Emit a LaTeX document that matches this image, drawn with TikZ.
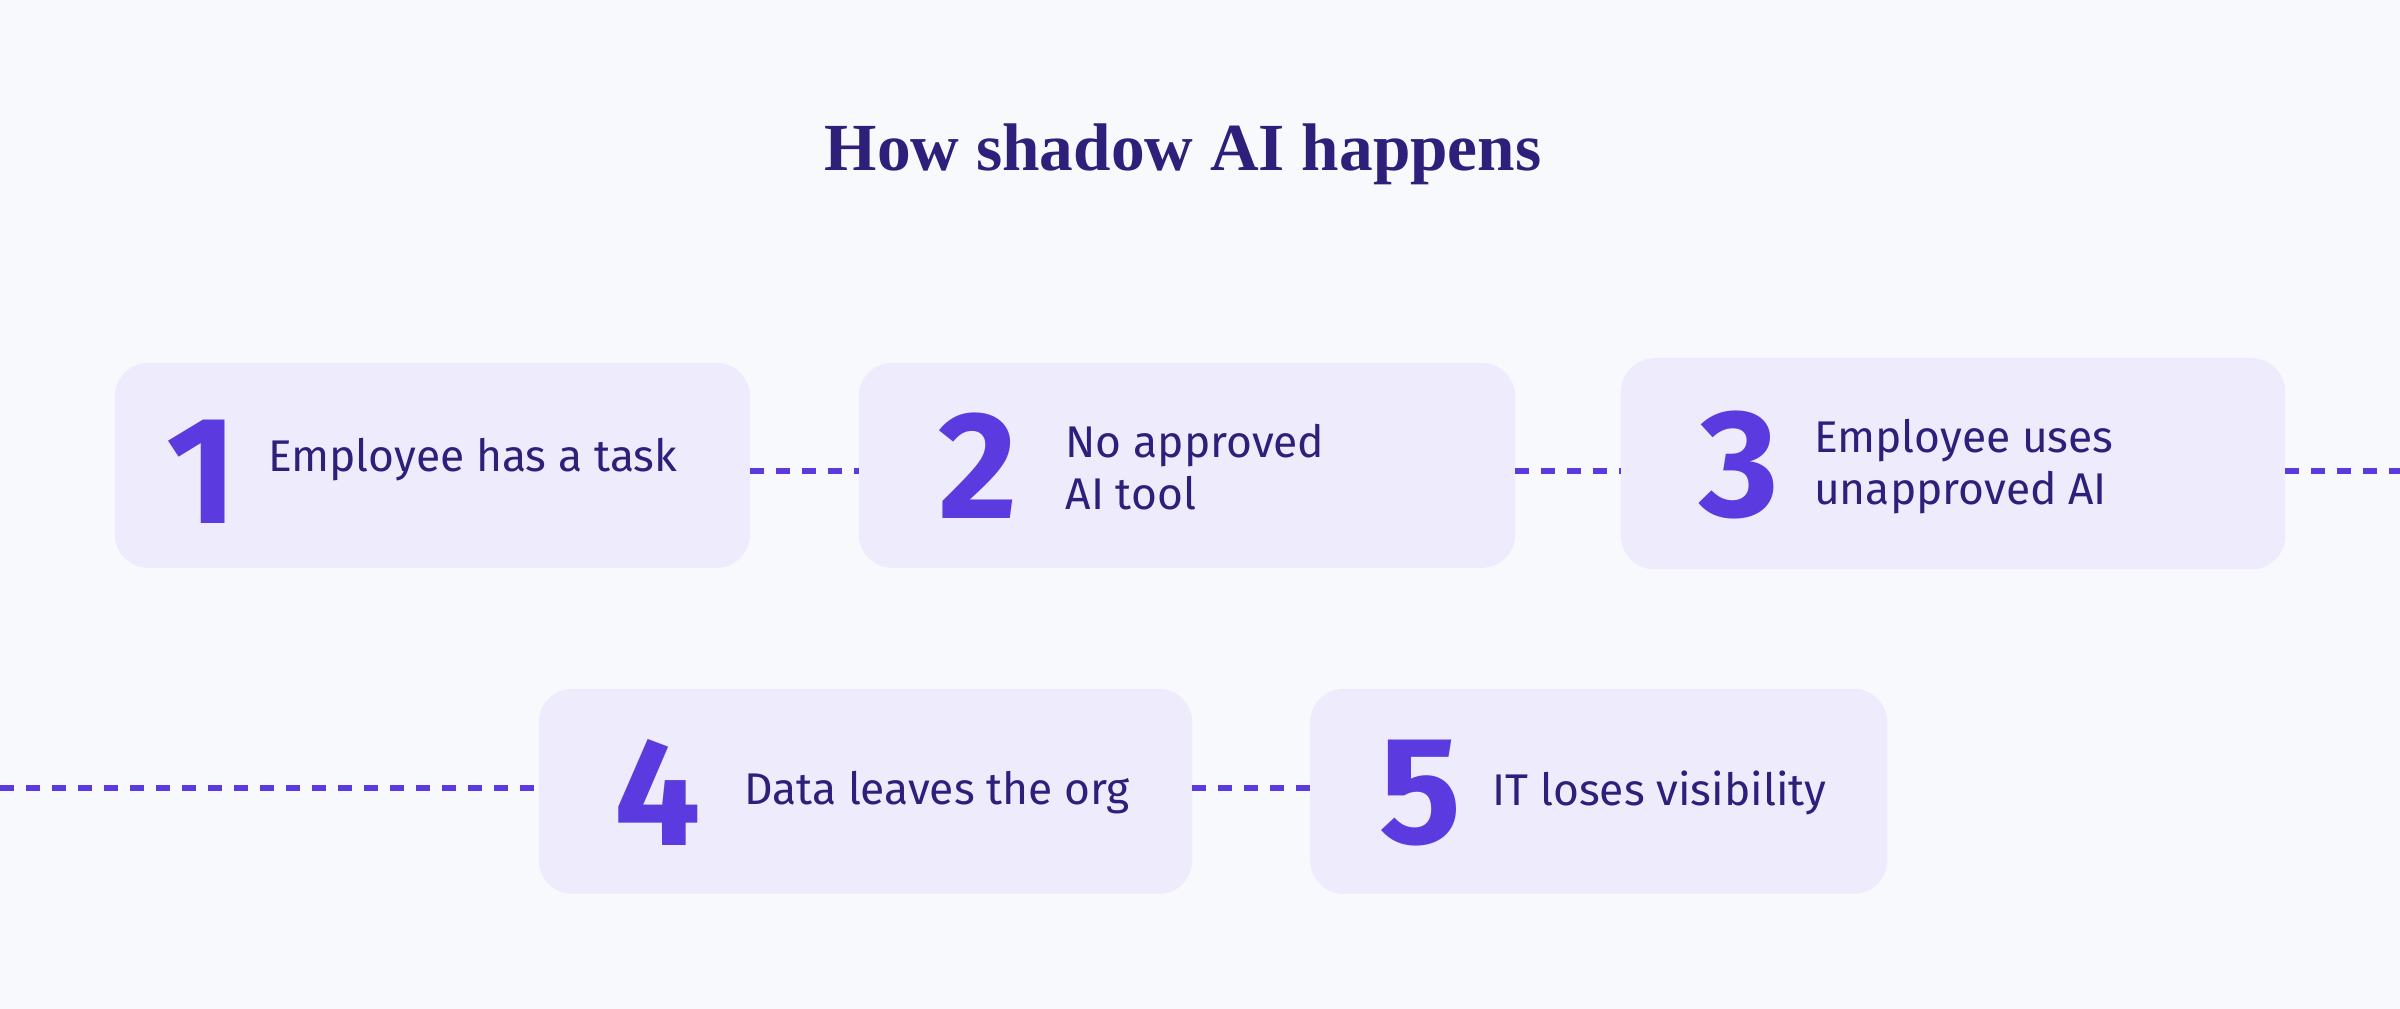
\documentclass[tikz,border=0pt]{standalone}
\usepackage{fontspec}
\setmainfont{Fira Sans}
\newfontfamily\titlefont{Liberation Serif}
\definecolor{bg}{HTML}{F8F9FC}
\definecolor{boxc}{HTML}{EEEBFC}
\definecolor{numc}{HTML}{5B3BE0}
\definecolor{txtc}{HTML}{2E1F7A}
\begin{document}
\begin{tikzpicture}[x=1pt,y=-1pt,
 box/.style={fill=boxc,rounded corners=22pt},
 num/.style={text=numc,font=\fontsize{100}{100}\selectfont\bfseries,inner sep=0},
 lab/.style={text=txtc,font=\fontsize{29}{34}\selectfont\mdseries,anchor=west,align=left,inner sep=0},
 dots/.style={numc,line width=4pt,dash pattern=on 9pt off 8pt}]
\fill[bg] (0,0) rectangle (1568,659);
\useasboundingbox (0,0) rectangle (1568,659);
\node[text=txtc,font=\fontsize{44}{44}\selectfont\titlefont\bfseries] (title) at (773,101) {How shadow AI happens};
\path[box] (75,237) rectangle (490,371) coordinate (b1e);
\path[box] (561,237) rectangle (990,371);
\path[box] (1059,234) rectangle (1493,372);
\path[box] (352,450) rectangle (779,584);
\path[box] (856,450) rectangle (1233,584);
\coordinate (b1r) at (490,308); \coordinate (b2l) at (561,308);
\coordinate (b2r) at (990,308); \coordinate (b3l) at (1059,308);
\coordinate (b3r) at (1493,308); \coordinate (e1) at (1568,308);
\coordinate (e2) at (0,515); \coordinate (b4l) at (352,515);
\coordinate (b4r) at (779,515); \coordinate (b5l) at (856,515);
\draw[dots] (b1r) -- (b2l); \draw[dots] (b2r) -- (b3l);
\draw[dots] (b3r) -- (e1); \draw[dots] (e2) -- (b4l);
\draw[dots] (b4r) -- (b5l);
\node[num] (n1) at (132,308) {1};
\node[lab] (t1) at (175,300) {Employee has a task};
\node[num] (n2) at (639,304) {2};
\node[lab] (t2) at (696,305) {No approved\\AI tool};
\node[num] (n3) at (1136,304) {3};
\node[lab] (t3) at (1185,305) {Employee uses\\unapproved AI};
\node[num] (n4) at (430,518) {4};
\node[lab] (t4) at (486,518) {Data leaves the org};
\node[num] (n5) at (928,518) {5};
\node[lab] (t5) at (975,518) {IT loses visibility};
\end{tikzpicture}
\end{document}
